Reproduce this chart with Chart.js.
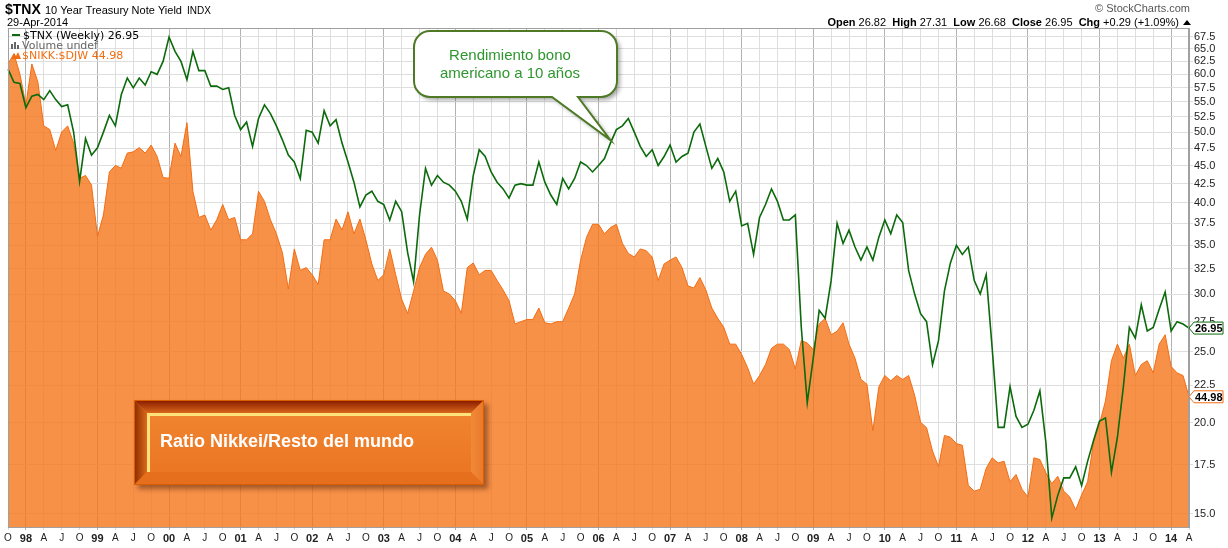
<!DOCTYPE html>
<html>
<head>
<meta charset="utf-8">
<title>$TNX vs $NIKK:$DJW</title>
<script src="https://cdn.jsdelivr.net/npm/chart.js@4.4.0/dist/chart.umd.min.js"></script>
<style>
  body { margin: 0; background: #fff; }
  #wrap { width: 1228px; height: 548px; position: relative; }
</style>
</head>
<body>
<div id="wrap"><canvas id="chart" width="1228" height="548"></canvas></div>
<script>
// monthly closes, Oct 1997 .. Apr 2014
var START_YEAR = 1997;
var START_MONTH = 9; // 0 = Jan, so 9 = Oct

// $TNX (yield x10)
var tnx = [
  61, 58.5, 58.3, 54, 56, 56.3, 55.4, 57, 55.4, 54.2,
  54.5, 50, 42.8, 49, 46.5, 47.6, 50, 52.7, 51, 56.3,
  59.3, 57.5, 59.3, 58, 60.5, 60, 62.5, 67.5, 64.5, 62.5,
  59, 64.5, 60.7, 60.7, 57.8, 57.8, 57.2, 57.5, 52.7, 50.4,
  51.6, 47.8, 52.2, 54.5, 53, 51, 48.8, 46.5, 45.5, 43.2,
  50.3, 50, 48.3, 53.5, 51, 52, 48.3, 45.5, 42.7, 39.5,
  41, 41.5, 40.2, 39.8, 37.9, 40.2, 38.9, 34.2, 31.2, 38.5,
  44.6, 42.3, 43.6, 42.7, 42.3, 41.5, 40.2, 38, 43.6, 47.3,
  46.3, 44.1, 42.7, 41.8, 40.6, 42.3, 42.5, 42.3, 42.3, 45.5,
  42.7, 41, 39.8, 43.2, 41.8, 43.2, 45.5, 45, 44.1, 45,
  46, 48.3, 50.4, 51, 52.2, 50, 47.8, 46.3, 47.3, 45,
  46.3, 48, 45.5, 46.3, 46.8, 50, 51.3, 47.8, 44.6, 46,
  44.1, 40.2, 41.5, 37.2, 37.5, 34, 38.2, 39.8, 41.8, 40.2,
  37.9, 37.9, 38.5, 27, 21.3, 24.5, 28.5, 27.8, 31.3, 37.5,
  35.2, 36.7, 34.8, 33.4, 34.8, 33.4, 35.9, 37.9, 36.3, 38.5,
  37.6, 32.3, 30, 28.2, 27.5, 24, 25.9, 30.3, 33.1, 35,
  34, 34.8, 31.3, 30, 31.9, 25.3, 19.7, 19.7, 22.4, 20.4,
  19.7, 19.9, 20.8, 22.1, 18.8, 14.8, 15.9, 16.8, 16.8, 17.4,
  16.4, 17.7, 18.9, 20.1, 20.3, 17.1, 19.1, 22.4, 27, 26.1,
  29, 26.7, 27, 28.6, 30.2, 26.7, 27.5, 27.3, 26.95
];

// $NIKK:$DJW ratio (overlay, own scale)
var nikkDjw = [
  128.5, 132.7, 124.4, 113.0, 128.5, 121.5, 105.7, 104.5, 97.8, 103.7,
  105.7, 100.1, 89.6, 90.4, 87.7, 74.6, 79.8, 91.4, 93.3, 92.5,
  97.0, 97.4, 98.7, 97.0, 99.5, 96.0, 89.8, 89.6, 100.1, 96.0,
  106.8, 86.0, 79.2, 79.8, 76.1, 78.6, 82.5, 78.6, 79.2, 73.8,
  73.8, 75.2, 86.0, 83.3, 78.6, 75.2, 70.9, 63.2, 71.7, 67.0,
  67.6, 66.1, 64.1, 73.8, 73.8, 78.8, 76.1, 80.6, 75.2, 78.8,
  73.8, 68.4, 64.9, 66.1, 71.7, 66.1, 61.2, 58.5, 62.8, 67.6,
  70.5, 72.1, 69.2, 62.8, 62.2, 60.9, 58.5, 67.6, 68.6, 66.1,
  67.0, 67.0, 64.9, 63.0, 60.9, 56.6, 57.0, 57.4, 57.4, 59.5,
  56.8, 56.6, 57.0, 57.0, 59.5, 62.2, 69.2, 74.4, 77.5, 77.5,
  75.2, 76.7, 77.5, 73.0, 70.7, 69.9, 71.7, 71.3, 69.9, 64.9,
  68.4, 69.2, 69.9, 67.6, 63.8, 63.4, 65.5, 63.0, 59.5, 57.6,
  56.0, 53.1, 53.1, 51.4, 49.3, 46.8, 48.1, 49.8, 52.4, 53.1,
  53.1, 52.2, 49.1, 53.7, 53.3, 52.2, 56.6, 57.6, 54.7, 55.3,
  56.8, 53.1, 50.8, 47.5, 46.8, 40.4, 46.4, 48.1, 47.3, 48.1,
  47.5, 48.1, 45.2, 41.5, 40.8, 37.9, 36.1, 39.8, 39.6, 38.8,
  38.6, 34.0, 33.4, 33.6, 35.9, 37.1, 36.5, 36.7, 34.4, 35.2,
  33.6, 32.8, 37.1, 36.9, 35.4, 34.2, 35.0, 33.4, 32.8, 31.5,
  33.0, 34.4, 39.0, 41.3, 44.4, 50.4, 53.1, 50.8, 53.1, 48.1,
  49.8, 50.4, 48.5, 53.1, 54.7, 49.5, 48.5, 48.1, 44.98
];

var yTicks = [15.0, 17.5, 20.0, 22.5, 25.0, 27.5, 30.0, 32.5, 35.0, 37.5, 40.0, 42.5,
              45.0, 47.5, 50.0, 52.5, 55.0, 57.5, 60.0, 62.5, 65.0, 67.5];
var quarterNames = { 3: 'A', 6: 'J', 9: 'O' };

var ohlc = [['Open', '26.82'], ['High', '27.31'], ['Low', '26.68'], ['Close', '26.95'], ['Chg', '+0.29 (+1.09%)']];

var Y_MIN = 14.39, Y_MAX = 69.44;
var OVERLAY = 44.98 / 21.7;   // where the ratio sits against the yield scale
var CALLOUT_AT = 101;         // point the speech bubble is aimed at

var SANS = "'Liberation Sans', Arial, sans-serif";
var GREEN = '#0b6a0b';
var ORANGE = '#f26d12';

var labels = [];
for (var i = 0; i < tnx.length; i++) {
  var mm = START_MONTH + i;
  labels.push((START_YEAR + Math.floor(mm / 12)) + '-' + (mm % 12 + 1));
}
function monthOf(idx) { return (START_MONTH + idx) % 12; }
function yearOf(idx) { return START_YEAR + Math.floor((START_MONTH + idx) / 12); }
// ticks with no label get dropped, so go by the tick's own value
function tickMonth(c) { return c.tick ? monthOf(c.tick.value) : -1; }

function roundBubble(ctx, x1, y1, x2, y2, r, tailA, tailB, tipX, tipY) {
  ctx.beginPath();
  ctx.moveTo(x1 + r, y1);
  ctx.lineTo(x2 - r, y1);
  ctx.arcTo(x2, y1, x2, y1 + r, r);
  ctx.lineTo(x2, y2 - r);
  ctx.arcTo(x2, y2, x2 - r, y2, r);
  ctx.lineTo(tailB, y2);
  ctx.lineTo(tipX, tipY);
  ctx.lineTo(tailA, y2);
  ctx.lineTo(x1 + r, y2);
  ctx.arcTo(x1, y2, x1, y2 - r, r);
  ctx.lineTo(x1, y1 + r);
  ctx.arcTo(x1, y1, x1 + r, y1, r);
  ctx.closePath();
}

function valueTag(ctx, x, y, text, color) {
  ctx.beginPath();
  ctx.moveTo(x, y);
  ctx.lineTo(x + 5, y - 6);
  ctx.lineTo(x + 34, y - 6);
  ctx.lineTo(x + 34, y + 6);
  ctx.lineTo(x + 5, y + 6);
  ctx.closePath();
  ctx.fillStyle = '#fff';
  ctx.fill();
  ctx.lineWidth = 1;
  ctx.strokeStyle = color;
  ctx.stroke();
  ctx.fillStyle = '#000';
  ctx.font = 'bold 11px ' + SANS;
  ctx.textAlign = 'left';
  ctx.textBaseline = 'middle';
  ctx.fillText(text, x + 6, y + 1);
}

var decorations = {
  id: 'decorations',
  afterDraw: function(chart) {
    var ctx = chart.ctx;
    var a = chart.chartArea;
    ctx.save();

    // plot frame
    ctx.strokeStyle = '#a0a0a0';
    ctx.lineWidth = 1;
    ctx.strokeRect(a.left + 0.5, a.top + 0.5, a.right - a.left - 1, a.bottom - a.top);

    // title block
    ctx.textBaseline = 'alphabetic';
    ctx.textAlign = 'left';
    ctx.fillStyle = '#000';
    ctx.font = 'bold 14px ' + SANS;
    ctx.fillText('$TNX', 5, 14);
    ctx.font = '11px ' + SANS;
    ctx.fillText('10 Year Treasury Note Yield', 45, 14);
    ctx.font = '10px ' + SANS;
    ctx.fillText('INDX', 187, 14);
    ctx.font = '11px ' + SANS;
    ctx.fillText('29-Apr-2014', 7, 26);

    ctx.fillStyle = '#555';
    ctx.font = '11px ' + SANS;
    ctx.textAlign = 'right';
    ctx.fillText('\u00a9 StockCharts.com', 1190, 12);

    // OHLC line, laid out right to left
    ctx.textAlign = 'left';
    var parts = [];
    ohlc.forEach(function(p, k) {
      parts.push({ t: p[0], f: 'bold 11px ' + SANS });
      parts.push({ t: ' ' + p[1] + (k < ohlc.length - 1 ? '  ' : ' '), f: '11px ' + SANS });
    });
    var total = 0;
    parts.forEach(function(p) { ctx.font = p.f; p.w = ctx.measureText(p.t).width; total += p.w; });
    var x = 1182 - total;
    ctx.fillStyle = '#000';
    parts.forEach(function(p) { ctx.font = p.f; ctx.fillText(p.t, x, 26); x += p.w; });
    ctx.beginPath();
    ctx.moveTo(1183, 25); ctx.lineTo(1191, 25); ctx.lineTo(1187, 20); ctx.closePath();
    ctx.fillStyle = '#000';
    ctx.fill();

    // legend inside the plot
    ctx.font = '11px "DejaVu Sans", sans-serif';
    ctx.fillStyle = GREEN;
    ctx.fillRect(12, 34, 8, 2);
    ctx.fillStyle = '#000';
    ctx.fillText('$TNX (Weekly) ' + tnx[tnx.length - 1].toFixed(2), 23, 39);
    ctx.fillStyle = '#666';
    ctx.fillRect(11, 44, 2, 5); ctx.fillRect(14, 42, 2, 7); ctx.fillRect(17, 45, 2, 4);
    ctx.fillText('Volume undef', 22, 49);
    ctx.fillStyle = ORANGE;
    ctx.beginPath();
    ctx.moveTo(11, 59); ctx.lineTo(14, 53); ctx.lineTo(16, 56); ctx.lineTo(18, 52); ctx.lineTo(21, 59);
    ctx.closePath(); ctx.fill();
    ctx.fillText('$NIKK:$DJW ' + nikkDjw[nikkDjw.length - 1].toFixed(2), 22, 59);

    // speech bubble aimed at the yield line
    var xs = chart.scales.x, ys = chart.scales.y;
    var tipX = xs.getPixelForValue(CALLOUT_AT);
    var tipY = ys.getPixelForValue(tnx[CALLOUT_AT]) - 3;
    ctx.save();
    ctx.shadowColor = 'rgba(0,0,0,0.35)';
    ctx.shadowOffsetX = 3; ctx.shadowOffsetY = 3; ctx.shadowBlur = 4;
    roundBubble(ctx, 414, 31, 617, 97, 16, 552, 578, tipX, tipY);
    ctx.fillStyle = '#fff';
    ctx.fill();
    ctx.restore();
    roundBubble(ctx, 414, 31, 617, 97, 16, 552, 578, tipX, tipY);
    ctx.strokeStyle = '#4e7a27';
    ctx.lineWidth = 2;
    ctx.stroke();
    ctx.fillStyle = '#2e962e';
    ctx.font = '15px ' + SANS;
    ctx.textAlign = 'center';
    ctx.fillText('Rendimiento bono', 510, 60);
    ctx.fillText('americano a 10 a\u00f1os', 510, 78);

    // bevelled label box
    var L = 134, T = 400, R = 484, B = 485, bw = 13;
    ctx.save();
    ctx.shadowColor = 'rgba(60,20,0,0.45)';
    ctx.shadowOffsetX = 4; ctx.shadowOffsetY = 4; ctx.shadowBlur = 5;
    ctx.fillStyle = '#e5741d';
    ctx.fillRect(L, T, R - L, B - T);
    ctx.restore();
    var g = ctx.createLinearGradient(0, T, 0, T + bw);
    g.addColorStop(0, '#861800'); g.addColorStop(1, '#d8661a');
    ctx.fillStyle = g;
    ctx.beginPath(); ctx.moveTo(L, T); ctx.lineTo(R, T); ctx.lineTo(R - bw, T + bw); ctx.lineTo(L + bw, T + bw); ctx.closePath(); ctx.fill();
    g = ctx.createLinearGradient(L, 0, L + bw, 0);
    g.addColorStop(0, '#8a2a00'); g.addColorStop(1, '#dc6a1c');
    ctx.fillStyle = g;
    ctx.beginPath(); ctx.moveTo(L, T); ctx.lineTo(L + bw, T + bw); ctx.lineTo(L + bw, B - bw); ctx.lineTo(L, B); ctx.closePath(); ctx.fill();
    g = ctx.createLinearGradient(R - bw, 0, R, 0);
    g.addColorStop(0, '#f08a38'); g.addColorStop(1, '#e9782a');
    ctx.fillStyle = g;
    ctx.beginPath(); ctx.moveTo(R, T); ctx.lineTo(R, B); ctx.lineTo(R - bw, B - bw); ctx.lineTo(R - bw, T + bw); ctx.closePath(); ctx.fill();
    ctx.fillStyle = '#e56f1c';
    ctx.beginPath(); ctx.moveTo(L, B); ctx.lineTo(L + bw, B - bw); ctx.lineTo(R - bw, B - bw); ctx.lineTo(R, B); ctx.closePath(); ctx.fill();
    g = ctx.createLinearGradient(0, T + bw, 0, B - bw);
    g.addColorStop(0, '#f0842f'); g.addColorStop(1, '#eb7624');
    ctx.fillStyle = g;
    ctx.fillRect(L + bw, T + bw, R - L - 2 * bw, B - T - 2 * bw);
    ctx.fillStyle = '#ffe27c';
    ctx.fillRect(L + bw, T + bw, R - L - 2 * bw, 3);
    ctx.fillRect(L + bw, T + bw, 3, B - T - 2 * bw);
    ctx.strokeStyle = '#d85e00';
    ctx.lineWidth = 1;
    ctx.strokeRect(L + 0.5, T + 0.5, R - L - 1, B - T - 1);
    ctx.fillStyle = '#fff';
    ctx.font = 'bold 18px ' + SANS;
    ctx.textAlign = 'left';
    ctx.fillText('Ratio Nikkei/Resto del mundo', 160, 447);

    // last-value tags on the right scale
    var y2 = chart.scales.y2;
    valueTag(ctx, a.right, ys.getPixelForValue(tnx[tnx.length - 1]), tnx[tnx.length - 1].toFixed(2), GREEN);
    valueTag(ctx, a.right, y2.getPixelForValue(nikkDjw[nikkDjw.length - 1]), nikkDjw[nikkDjw.length - 1].toFixed(2), ORANGE);

    ctx.restore();
  }
};

new Chart(document.getElementById('chart'), {
  type: 'line',
  data: {
    labels: labels,
    datasets: [
      {
        label: '$TNX (Weekly)',
        data: tnx,
        yAxisID: 'y',
        borderColor: GREEN,
        borderWidth: 1.6,
        pointRadius: 0,
        tension: 0,
        fill: false,
        order: 0
      },
      {
        label: '$NIKK:$DJW',
        data: nikkDjw,
        yAxisID: 'y2',
        borderColor: ORANGE,
        borderWidth: 1,
        backgroundColor: 'rgba(246,118,26,0.80)',
        pointRadius: 0,
        tension: 0,
        fill: 'start',
        order: 1
      }
    ]
  },
  options: {
    responsive: false,
    animation: false,
    layout: { padding: { top: 28, left: 8, right: 0, bottom: 0 } },
    plugins: { legend: { display: false }, tooltip: { enabled: false } },
    scales: {
      x: {
        type: 'category',
        offset: false,
        afterFit: function(s) { s.height = 21; },
        border: { display: true, color: '#a0a0a0' },
        grid: {
          tickLength: 3,
          color: function(c) { return tickMonth(c) === 0 ? '#b2b2b2' : '#dedede'; }
        },
        ticks: {
          autoSkip: false,
          maxRotation: 0,
          padding: 2,
          color: '#222',
          font: function(c) {
            return tickMonth(c) === 0
              ? { family: SANS, size: 11, weight: 'bold' }
              : { family: SANS, size: 10 };
          },
          callback: function(v) {
            var m = monthOf(v);
            if (m === 0) return String(yearOf(v)).slice(2);
            return quarterNames[m] || null;
          }
        }
      },
      y: {
        type: 'logarithmic',
        position: 'right',
        min: Y_MIN,
        max: Y_MAX,
        bounds: 'data',
        afterFit: function(s) { s.width = 39; },
        afterBuildTicks: function(s) { s.ticks = yTicks.map(function(v) { return { value: v }; }); },
        border: { display: true, color: '#a0a0a0' },
        grid: { color: '#dedede', tickLength: 4 },
        ticks: {
          padding: 1,
          color: '#222',
          font: { family: SANS, size: 11 },
          callback: function(v) { return Number(v).toFixed(1); }
        }
      },
      y2: {
        type: 'logarithmic',
        display: false,
        min: Y_MIN * OVERLAY,
        max: Y_MAX * OVERLAY,
        bounds: 'data'
      }
    }
  },
  plugins: [decorations]
});
</script>
</body>
</html>
